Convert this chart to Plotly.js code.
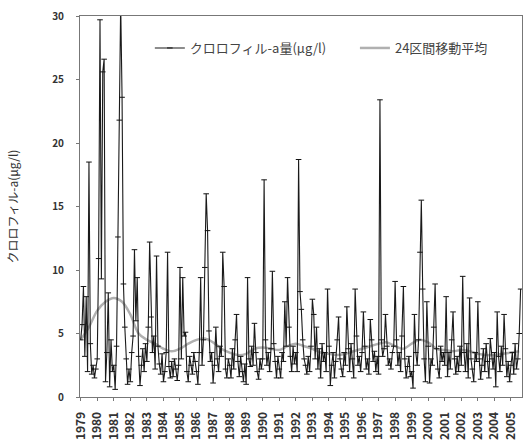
<!DOCTYPE html>
<html>
<head>
<meta charset="utf-8">
<script src="https://cdn.plot.ly/plotly-3.0.1.min.js"></script>
<style>html,body{margin:0;padding:0;background:#fff;}#chart{width:523px;height:443px;}</style>
</head>
<body>
<div id="chart"></div>
<script>
// Year tick labels (x axis)
const years = ['1979','1980','1981','1982','1983','1984','1985','1986','1987','1988','1989','1990','1991','1992','1993','1994','1995','1996','1997','1998','1999','2000','2001','2002','2003','2004','2005'];

// Monthly chlorophyll-a (μg/l), Jan 1979 – Aug 2005, one row per year
const chl1979 = [4.5, 5.7, 8.7, 3.2, 7.9, 2.0, 18.5, 4.2, 1.8, 2.5, 1.5, 2.2];
const chl1980 = [3.0, 10.9, 29.7, 9.3, 25.6, 26.6, 1.2, 3.5, 8.2, 0.8, 4.5, 2.0];
const chl1981 = [2.5, 0.6, 4.0, 12.6, 21.8, 31.0, 23.6, 8.9, 5.5, 3.0, 1.0, 2.2];
const chl1982 = [1.2, 3.5, 4.8, 11.6, 6.0, 9.4, 3.2, 0.9, 2.5, 3.8, 2.0, 4.2];
const chl1983 = [2.8, 5.5, 12.2, 6.3, 3.5, 4.8, 2.2, 11.1, 4.0, 2.6, 1.8, 3.4];
const chl1984 = [1.2, 2.0, 3.5, 11.4, 2.4, 1.5, 2.8, 1.6, 3.0, 2.2, 1.3, 2.5];
const chl1985 = [10.2, 3.0, 9.4, 4.8, 5.1, 2.0, 1.2, 3.2, 2.5, 1.8, 3.5, 2.8];
const chl1986 = [2.0, 1.0, 3.5, 9.4, 2.5, 4.5, 10.2, 16.0, 13.1, 5.2, 2.8, 3.5];
const chl1987 = [1.1, 2.5, 5.5, 3.0, 2.0, 4.0, 3.2, 11.4, 8.7, 2.2, 1.5, 3.0];
const chl1988 = [2.5, 1.5, 3.8, 2.2, 4.5, 6.5, 2.8, 1.6, 3.2, 2.0, 1.2, 2.6];
const chl1989 = [1.0, 9.4, 3.0, 2.4, 4.0, 2.5, 5.8, 3.5, 2.0, 1.4, 3.0, 2.2];
const chl1990 = [3.0, 17.1, 4.5, 2.5, 3.5, 2.0, 3.8, 9.9, 4.2, 2.8, 1.5, 3.2];
const chl1991 = [2.2, 1.5, 3.5, 2.8, 7.5, 4.0, 9.4, 5.5, 3.2, 2.0, 4.0, 2.6];
const chl1992 = [3.5, 2.0, 18.7, 8.3, 6.9, 4.5, 3.0, 2.5, 1.8, 3.2, 2.0, 4.0];
const chl1993 = [7.7, 6.5, 3.0, 5.5, 2.2, 3.8, 1.5, 4.2, 2.8, 3.5, 2.0, 8.5];
const chl1994 = [4.0, 0.9, 2.5, 3.5, 1.5, 2.8, 4.5, 6.3, 3.0, 2.2, 1.6, 3.5];
const chl1995 = [2.5, 7.1, 3.8, 2.0, 4.2, 3.0, 1.5, 8.5, 4.8, 2.5, 3.2, 2.0];
const chl1996 = [3.5, 6.7, 4.0, 2.2, 3.0, 1.8, 6.1, 4.5, 2.8, 3.6, 2.0, 3.2];
const chl1997 = [1.8, 23.4, 4.5, 3.2, 3.8, 6.5, 4.0, 2.5, 3.0, 2.2, 3.5, 4.0];
const chl1998 = [9.1, 4.5, 2.5, 3.5, 2.0, 4.8, 8.7, 3.0, 1.5, 2.4, 3.2, 1.6];
const chl1999 = [2.0, 0.7, 6.5, 3.5, 2.5, 4.5, 11.4, 15.5, 8.5, 3.0, 1.2, 7.5];
const chl2000 = [4.0, 1.1, 3.0, 2.5, 5.5, 8.9, 3.8, 2.2, 1.5, 4.0, 2.8, 3.5];
const chl2001 = [2.5, 7.9, 1.6, 3.5, 2.2, 4.5, 6.7, 3.0, 1.8, 3.2, 2.0, 4.0];
const chl2002 = [2.5, 9.5, 3.5, 2.0, 4.2, 1.5, 7.8, 3.0, 2.2, 1.2, 3.5, 2.8];
const chl2003 = [7.5, 3.0, 1.4, 2.5, 3.8, 2.0, 4.2, 2.8, 1.5, 4.6, 3.0, 2.2];
const chl2004 = [3.5, 0.8, 6.7, 3.2, 2.0, 4.0, 2.5, 6.5, 3.8, 1.6, 2.8, 1.2];
const chl2005 = [2.5, 3.5, 1.8, 4.2, 2.2, 3.0, 5.0, 8.5];

// 24-interval moving average, every 6 months from Jan 1979
const movingAvg = [4.5, 5.5, 6.8, 7.5, 7.8, 7.5, 6.5, 5.0, 4.5, 4.2, 3.8, 3.6, 3.8, 4.2, 4.5, 4.6, 4.3, 3.8, 3.5, 3.3, 3.4, 3.8, 3.9, 3.8, 3.7, 4.0, 4.2, 4.0, 3.8, 3.5, 3.4, 3.3, 3.4, 3.6, 3.8, 4.0, 4.2, 4.3, 4.0, 3.8, 4.2, 4.5, 4.3, 3.8, 3.7, 3.6, 3.7, 3.6, 3.4, 3.3, 3.3, 3.4, 3.5, 3.6];

const seriesNames = ['クロロフィル-a量(μg/l)', '24区間移動平均'];
const yTitle = 'クロロフィル-a(μg/l)';

const chl = [].concat(chl1979, chl1980, chl1981, chl1982, chl1983, chl1984, chl1985, chl1986, chl1987, chl1988, chl1989, chl1990, chl1991, chl1992, chl1993, chl1994, chl1995, chl1996, chl1997, chl1998, chl1999, chl2000, chl2001, chl2002, chl2003, chl2004, chl2005);
const monthIdx = chl.map((_, i) => i);
const maIdx = movingAvg.map((_, i) => i * 6);
const tickPos = years.map((_, i) => i * 12);

const font = 'Noto Sans CJK JP, Liberation Sans, sans-serif';

const traces = [
  {
    x: maIdx, y: movingAvg, name: seriesNames[1], type: 'scatter', mode: 'lines',
    line: {color: '#b0b0b0', width: 2.5, shape: 'spline'}, legend: 'legend2'
  },
  {
    x: monthIdx, y: chl, name: seriesNames[0], type: 'scatter', mode: 'lines+markers',
    line: {color: '#1a1a1a', width: 1.1},
    marker: {symbol: 'line-ew-open', size: 4, color: '#111', line: {width: 1, color: '#111'}},
    legend: 'legend'
  }
];

const legendCommon = {orientation: 'h', xanchor: 'left', yanchor: 'middle', y: 0.916,
  bgcolor: 'rgba(0,0,0,0)', font: {size: 13, color: '#444'}};

const layout = {
  width: 523, height: 443,
  margin: {l: 80, r: 1, t: 16, b: 46},
  paper_bgcolor: '#fff', plot_bgcolor: '#fff',
  font: {family: font, color: '#333', size: 10},
  showlegend: true,
  legend: Object.assign({}, legendCommon, {x: 0.158}),
  legend2: Object.assign({}, legendCommon, {x: 0.622}),
  xaxis: {
    range: [-0.5, 320], tickvals: tickPos, ticktext: years, tickangle: -90,
    showgrid: false, zeroline: false, showline: true, linecolor: '#777', linewidth: 1,
    mirror: true, ticks: 'outside', ticklen: 3, tickcolor: '#777',
    tickfont: {size: 12, color: '#333', weight: 'bold'}, ticklabelstandoff: 6
  },
  yaxis: {
    range: [0, 30], tickvals: [0, 5, 10, 15, 20, 25, 30],
    showgrid: false, zeroline: false, showline: true, linecolor: '#777', linewidth: 1,
    mirror: true, ticks: 'outside', ticklen: 3, tickcolor: '#777',
    tickfont: {size: 10, color: '#333', weight: 'bold'}, ticklabelstandoff: 10,
    title: {text: yTitle, font: {size: 12, color: '#333'}, standoff: 30}
  }
};

Plotly.newPlot('chart', traces, layout, {displayModeBar: false, staticPlot: true});
</script>
</body>
</html>
